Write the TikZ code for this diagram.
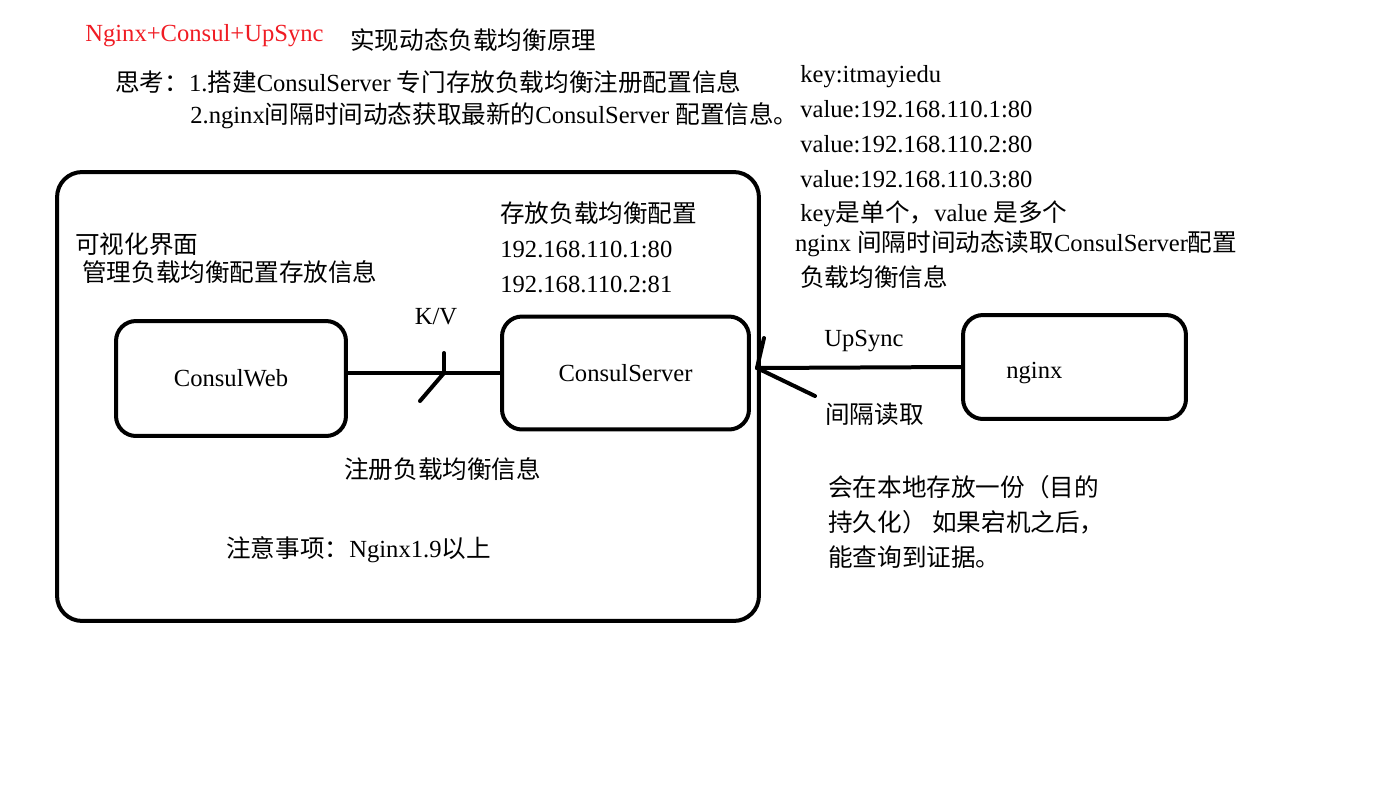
\documentclass[tikz,border=0pt]{standalone}
\usepackage{fontspec}
\setmainfont{Liberation Serif}
\newfontfamily\zh{Noto Sans CJK SC}
\usetikzlibrary{positioning}

\definecolor{titlered}{RGB}{240,28,36}

\begin{document}
\begin{tikzpicture}[
    x=0.02cm, y=-0.02cm,
    box/.style={draw, line width=0.08cm, rounded corners=0.4cm},
    link/.style={line width=0.08cm, line cap=round},
    txt/.style={inner sep=0pt, anchor=west, align=left, font=\fontsize{14}{19.9}\selectfont}
  ]
    \useasboundingbox (0,0) rectangle (1376,805);

    % boxes
    \node[box, rounded corners=0.5cm, minimum width=14.04cm, minimum height=8.98cm] (cluster) at (408,396.5) {};
    \node[box, minimum width=4.6cm, minimum height=2.3cm, font=\fontsize{14}{17}\selectfont] (web) at (231,378.5) {ConsulWeb};
    \node[box, minimum width=4.94cm, minimum height=2.26cm, font=\fontsize{14}{17}\selectfont] (server) at (625.5,373) {ConsulServer};
    \node[box, minimum width=4.46cm, minimum height=2.08cm] (nginx) at (1074.5,367) {};
    \node[txt] (nginxtxt) at (1006,373) {nginx};

    % header
    \node[txt, text=titlered] (title) at (85,36) {Nginx+Consul+UpSync};
    \node[txt] (subtitle) at (350,40) {\zh 实现动态负载均衡原理};
    \node[txt] (think1) at (115,82) {{\zh 思考：}1.{\zh 搭建}ConsulServer {\zh 专门存放负载均衡注册配置信息}};
    \node[txt] (think2) at (190,116) {2.nginx{\zh 间隔时间动态获取最新的}ConsulServer {\zh 配置信息。}};

    % right notes
    \node[txt] (kvnote) at (800,177) {key:itmayiedu\\
      value:192.168.110.1:80\\
      value:192.168.110.2:80\\
      value:192.168.110.3:80\\
      key{\zh 是单个，}value {\zh 是多个}\\[-0.1cm]
      \hspace*{-3pt}nginx {\zh 间隔时间动态读取}ConsulServer{\zh 配置}\\
      {\zh 负载均衡信息}};

    % inside the cluster
    \node[txt] (store) at (500,247) {{\zh 存放负载均衡配置}\\
      192.168.110.1:80\\
      192.168.110.2:81};
    \node[txt] (ui1) at (75,244) {\zh 可视化界面};
    \node[txt] (ui2) at (82,272) {\zh 管理负载均衡配置存放信息};
    \node[txt] (reg) at (344,469) {\zh 注册负载均衡信息};
    \node[txt] (notice) at (226,550) {{\zh 注意事项：}Nginx1.9{\zh 以上}};

    % links
    \draw[link] (server.west -| web.east) -- (server.west);
    \node[txt, anchor=center] (kv) at (436,317) {K/V};
    \coordinate (kvtip) at (444,373);
    \draw[link] (kvtip) -- ++(0,-20);
    \draw[link] (kvtip) -- ++(-24,28);

    \coordinate (uptip) at (757,368);
    \draw[link] (nginx.west) -- (uptip);
    \draw[link] (uptip) -- ++(7,-30);
    \draw[link] (uptip) -- ++(58,28);
    \node[txt, anchor=center] (upsync) at (864,341) {UpSync};
    \node[txt] (poll) at (825,414) {\zh 间隔读取};

    \node[txt] (persist) at (828,522) {{\zh 会在本地存放一份（目的}\\
      {\zh 持久化）\ 如果宕机之后，}\\
      {\zh 能查询到证据。}};
  \end{tikzpicture}
\end{document}
